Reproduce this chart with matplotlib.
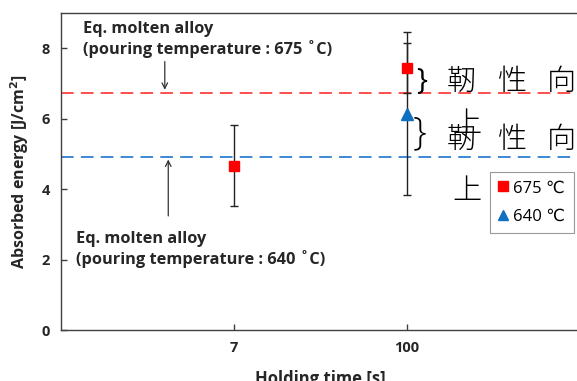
import matplotlib
matplotlib.use("Agg")
import matplotlib.pyplot as plt

# ---- data ----
categories = ["7", "100"]
x_pos = [1, 2]
y675 = [4.67, 7.44]
err675 = [1.15, 0.70]
y640_x = [2]
y640 = [6.14]
err640 = [2.32]
line675 = 6.74
line640 = 4.92
yticks = [0, 2, 4, 6, 8]
legend_labels = ["675 \u2103", "640 \u2103"]

plt.rcParams['font.family'] = ['Open Sans', 'DejaVu Sans']

fig = plt.figure(figsize=(5.77, 3.81), dpi=100)
ax = fig.add_axes([61/577, 1-330/381, 519/577, 317/381])

txtc = '#262626'
ax.axhline(line675, color='#FF4040', lw=1.3, dashes=(7, 4), zorder=1)
ax.axhline(line640, color='#2F7FD0', lw=1.3, dashes=(7, 4), zorder=1)

c1 = ax.errorbar(x_pos, y675, yerr=err675, fmt='s', color='#FF0000', ms=7.5,
                 ecolor='#222222', elinewidth=1.0, capsize=3, capthick=1.0,
                 label=legend_labels[0], zorder=3)
c2 = ax.errorbar(y640_x, y640, yerr=err640, fmt='^', color='#1070C0', ms=9,
                 ecolor='#222222', elinewidth=1.0, capsize=3, capthick=1.0,
                 label=legend_labels[1], zorder=3)

ax.set_xlim(0, 3)
ax.set_ylim(0, 9)
ax.set_xticks(x_pos)
ax.set_xticklabels(categories)
ax.set_yticks(yticks)
ax.tick_params(direction='in', length=4, width=1, colors='#404040', labelcolor=txtc,
               labelsize=10.5, pad=8)
for lab in ax.get_xticklabels() + ax.get_yticklabels():
    lab.set_fontweight('bold')
for s in ax.spines.values():
    s.set_color('#404040')
    s.set_linewidth(1.0)

ax.set_ylabel("Absorbed energy [J/cm$^\\mathbf{2}$]", fontsize=11.5, fontweight='bold',
              color=txtc)
ax.yaxis.set_label_coords(-0.057, 0.5)
ax.set_xlabel("Holding time [s]", fontsize=12, fontweight='bold', color=txtc, labelpad=11)

# annotations
ax.annotate("", xy=(0.6, line675), xytext=(0.6, 7.7),
            arrowprops=dict(arrowstyle='->', color='#333333', lw=0.9))
ax.text(0.13, 8.78, "Eq. molten alloy\n(pouring temperature : 675 \u02daC)", fontsize=11.8,
        fontweight='bold', color=txtc, va='top', ha='left', linespacing=1.2)
ax.annotate("", xy=(0.62, line640), xytext=(0.62, 3.16),
            arrowprops=dict(arrowstyle='->', color='#333333', lw=0.9))
ax.text(0.085, 2.8, "Eq. molten alloy\n(pouring temperature : 640 \u02daC)", fontsize=11.8,
        fontweight='bold', color=txtc, va='top', ha='left', linespacing=1.2)

# Chinese annotations
cjk = ['Noto Sans CJK JP', 'DejaVu Sans']
ax.text(2.05, 7.05, "}", fontsize=21, family='Open Sans', va='center', ha='left',
        color='black')
ax.text(2.03, 5.55, "}", fontsize=28, family='Open Sans', fontweight='light',
        va='center', ha='left', color='black')
chars = ["靭", "性", "向"]
for i, c in enumerate(chars):
    ax.text(2.23 + i*0.289, 7.05, c, fontsize=21, family=cjk, fontweight='light',
            va='center', ha='left', color='black')
    ax.text(2.23 + i*0.289, 5.4, c, fontsize=21, family=cjk, fontweight='light',
            va='center', ha='left', color='black')
ax.text(2.26, 5.85, "上", fontsize=21, family=cjk, fontweight='light',
        va='center', ha='left', color='black')
ax.text(2.26, 3.95, "上", fontsize=21, family=cjk, fontweight='light',
        va='center', ha='left', color='black')

leg = ax.legend(handles=[c1[0], c2[0]], labels=legend_labels, loc='upper left',
                bbox_to_anchor=(429/519, (330-172)/317), fontsize=12,
                frameon=True, fancybox=False, edgecolor='#808080', handlelength=0.6,
                handletextpad=0.3, borderpad=0.5, labelspacing=0.75, borderaxespad=0)
leg.get_frame().set_linewidth(0.8)
for h in leg.legend_handles:
    h.set_markersize(7)

fig.savefig("out.png", dpi=100)
